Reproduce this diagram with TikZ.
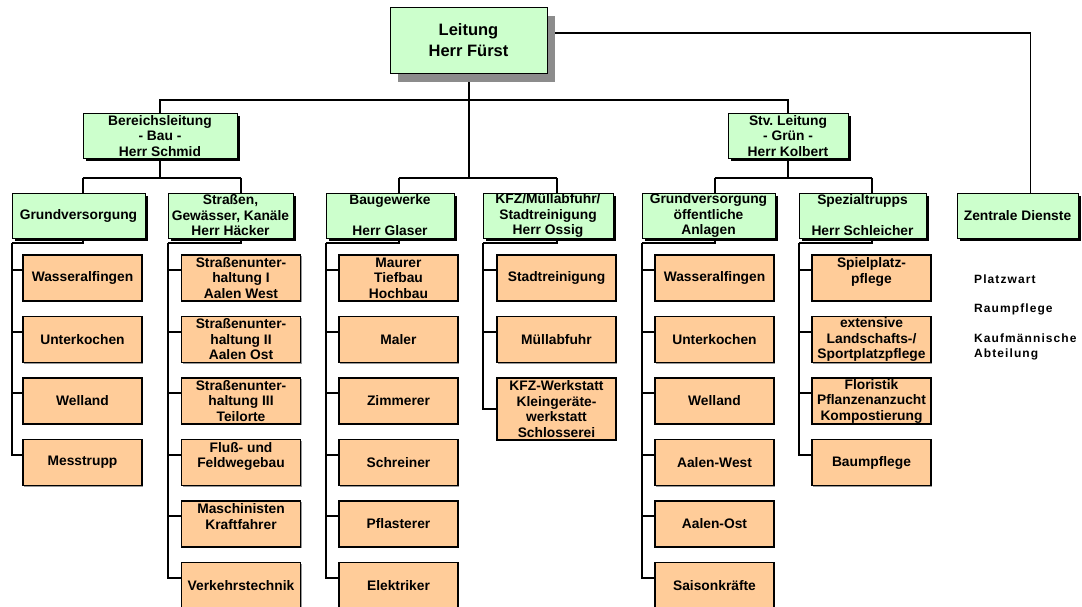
\documentclass[tikz,border=0pt]{standalone}
\usepackage{fontspec}
\setmainfont{Liberation Sans}
\newfontfamily\listfamily{Liberation Sans}[LetterSpace=9]
\usepackage{tikz}
\usepackage{xcolor}
\usetikzlibrary{shadows,backgrounds}
\definecolor{headgreen}{HTML}{CCFFCC}
\definecolor{unitorange}{HTML}{FFCC99}
\newcommand\orgfont{\fontsize{13.8}{15.5}\selectfont\bfseries}
\newcommand\chieffont{\fontsize{16.5}{21}\selectfont\bfseries}
\newcommand\listfont{\listfamily\fontsize{12}{15}\selectfont\bfseries}
\tikzset{
  chief/.style={draw=black, line width=0.8pt, fill=headgreen, inner sep=0pt, outer sep=0pt,
    minimum width=157pt, minimum height=66pt, align=center, font=\chieffont,
    drop shadow={shadow xshift=8pt, shadow yshift=-9pt, fill=black!45, opacity=1}},
  head/.style={draw=black, line width=0.8pt, fill=headgreen, inner sep=0pt, outer sep=0pt,
    minimum height=45pt, align=center, font=\orgfont,
    drop shadow={shadow xshift=3pt, shadow yshift=-3pt, fill=black, opacity=1}},
  unit/.style={draw=black, line width=1.8pt, fill=unitorange, inner sep=0pt, outer sep=0pt,
    minimum width=119pt, minimum height=46pt, align=center, font=\orgfont,
    drop shadow={shadow xshift=1.2pt, shadow yshift=-1.2pt, fill=black!40, opacity=1}},
  link/.style={line width=2pt},
  listitem/.style={anchor=west, inner sep=0pt, align=left, font=\listfont}
}

\begin{document}
\begin{tikzpicture}[x=1pt,y=-1pt]
\useasboundingbox (0,0) rectangle (1082,607);
\coordinate (topbus) at (0,100);
\coordinate (midbus) at (0,178);
\coordinate (railtop) at (0,243);

\node[chief] (leit) at (468.5,40) {Leitung\\Herr Fürst};
\node[head, minimum width=154pt] (bl) at (160,136) {Bereichsleitung\\- Bau -\\Herr Schmid};
\node[head, minimum width=120pt] (stv) at (788,136) {Stv.\ Leitung\\- Grün -\\Herr Kolbert};

\node[head, minimum width=133pt] (gv) at (78.5,215.5) {Grundversorgung};
\node[head, minimum width=125pt] (str) at (230.5,215.5) {Straßen,\\Gewässer, Kanäle\\Herr Häcker};
\node[head, minimum width=128pt] (bg) at (390,215.5) {Baugewerke\\~\\Herr Glaser};
\node[head, minimum width=130pt] (kfz) at (548,215.5) {KFZ/Müllabfuhr/\\Stadtreinigung\\Herr Ossig};
\node[head, minimum width=133pt] (gvo) at (708.5,215.5) {Grundversorgung\\öffentliche\\Anlagen};
\node[head, minimum width=127pt] (sp) at (862.5,215.5) {Spezialtrupps\\~\\Herr Schleicher};
\node[head, minimum width=121pt] (zd) at (1017.5,215.5) {Zentrale Dienste};

\node[unit] (gv1) at (82.5,278) {Wasseralfingen};
\node[unit] (gv2) at (82.5,339.5) {Unterkochen};
\node[unit] (gv3) at (82.5,401) {Welland};
\node[unit] (gv4) at (82.5,462.5) {Messtrupp};

\node[unit] (str1) at (241,278) {Straßenunter-\\haltung I\\Aalen West};
\node[unit] (str2) at (241,339.5) {Straßenunter-\\haltung II\\Aalen Ost};
\node[unit] (str3) at (241,401) {Straßenunter-\\haltung III\\Teilorte};
\node[unit] (str4) at (241,462.5) {Fluß- und\\Feldwegebau\\~};
\node[unit] (str5) at (241,524) {Maschinisten\\Kraftfahrer\\~};
\node[unit] (str6) at (241,585.5) {Verkehrstechnik};

\node[unit] (bg1) at (398.5,278) {Maurer\\Tiefbau\\Hochbau};
\node[unit] (bg2) at (398.5,339.5) {Maler};
\node[unit] (bg3) at (398.5,401) {Zimmerer};
\node[unit] (bg4) at (398.5,462.5) {Schreiner};
\node[unit] (bg5) at (398.5,524) {Pflasterer};
\node[unit] (bg6) at (398.5,585.5) {Elektriker};

\node[unit] (kfz1) at (556.5,278) {Stadtreinigung};
\node[unit] (kfz2) at (556.5,339.5) {Müllabfuhr};
\node[unit, minimum height=62pt] (kfz3) at (556.5,409) {KFZ-Werkstatt\\Kleingeräte-\\werkstatt\\Schlosserei};

\node[unit] (gvo1) at (714.5,278) {Wasseralfingen};
\node[unit] (gvo2) at (714.5,339.5) {Unterkochen};
\node[unit] (gvo3) at (714.5,401) {Welland};
\node[unit] (gvo4) at (714.5,462.5) {Aalen-West};
\node[unit] (gvo5) at (714.5,524) {Aalen-Ost};
\node[unit] (gvo6) at (714.5,585.5) {Saisonkräfte};

\node[unit] (sp1) at (871.5,278) {Spielplatz-\\pflege\\~};
\node[unit] (sp2) at (871.5,339.5) {extensive\\Landschafts-/\\Sportplatzpflege};
\node[unit] (sp3) at (871.5,401) {Floristik\\Pflanzenanzucht\\Kompostierung};
\node[unit] (sp4) at (871.5,462.5) {Baumpflege};

\node[listitem] (zd1) at (974,279) {Platzwart};
\node[listitem] (zd2) at (974,309) {Raumpflege};
\node[listitem] (zd3) at (974,347) {Kaufmännische\\Abteilung};

\begin{scope}[on background layer]
\draw[link] (leit.south) -- (leit.south |- midbus);
\draw[link] (bl.north) |- (leit.south |- topbus) -| (stv.north);
\draw[line width=1.2pt] ([yshift=7pt]leit.east) -| ([xshift=13pt]zd.north);
\draw[link] (bl.south) -- (bl.south |- midbus);
\draw[link] (stv.south) -- (stv.south |- midbus);
\draw[link] (gv1.north |- midbus) -- (str1.north |- midbus);
\draw[link] (bg1.north |- midbus) -- (kfz1.north |- midbus);
\draw[link] (gvo1.north |- midbus) -- (sp1.north |- midbus);
\foreach \col/\last in {gv/4,str/6,bg/6,kfz/2,gvo/6,sp/4} {
  \draw[link] (\col1.north |- midbus) |- (\col.west |- railtop);
  \foreach \k in {1,...,\last}
    \draw[link] ([yshift=-15pt]\col\k.north west) -| (\col.west |- railtop);
}
\draw[link] (kfz3.west) -| (kfz.west |- railtop);
\end{scope}
\end{tikzpicture}
\end{document}
